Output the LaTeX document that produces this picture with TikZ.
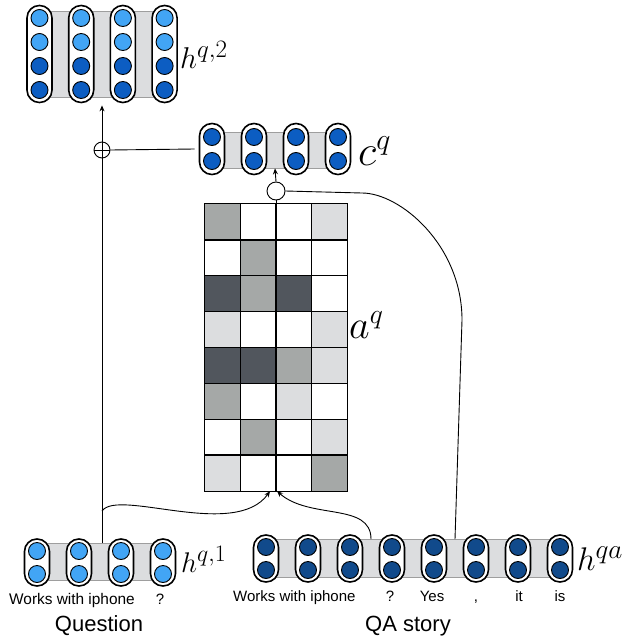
\documentclass[tikz,border=0pt]{standalone}
\usepackage{fontspec}
\setmainfont{Liberation Sans}
\usetikzlibrary{calc,arrows.meta}
\definecolor{lblue}{HTML}{42A5F5}
\definecolor{dblue}{HTML}{0C5DC2}
\definecolor{navy}{HTML}{114A8B}
\definecolor{bandgray}{HTML}{DCDDDF}
\definecolor{bandedge}{HTML}{9E9E9E}
\definecolor{cdark}{HTML}{51565D}
\definecolor{cmid}{HTML}{A5A8A7}
\definecolor{clight}{HTML}{DCDDDF}
\newcommand{\mlab}[2]{\scalebox{#1}{\fontsize{20.74}{24}\selectfont$#2$}}
\newcommand{\hsup}[1]{^{\mbox{\fontsize{17.28}{20}\selectfont$#1$}}}
\begin{document}
\begin{tikzpicture}[x=1pt,y=-1pt,
  capsule/.style={draw=black, line width=1.6pt, fill=white, rounded corners=12.4pt, minimum width=25pt, inner sep=0pt},
  unit/.style={circle, draw=black, line width=0.9pt, minimum size=17pt, inner sep=0pt},
  band/.style={draw=bandedge, fill=bandgray, line width=0.8pt, inner sep=0pt},
  arr/.style={-{Stealth[length=6pt,width=5pt]}, line width=0.9pt},
  conn/.style={line width=0.9pt},
  word/.style={font=\fontsize{15}{15}\selectfont, anchor=base, inner sep=0pt},
  title/.style={font=\fontsize{22}{22}\selectfont, anchor=base, inner sep=0pt},
  mlabel/.style={anchor=base west, inner sep=0pt}]
\useasboundingbox (0,0) rectangle (644,642);

% ---- h^{q,2}
\node[band, minimum width=125pt, minimum height=86pt] (hq2band) at (102,54) {};
\foreach \i/\x in {1/39.5,2/81.2,3/122.9,4/164.6} {
  \node[capsule, minimum height=97pt] (hq2-\i) at (\x,54) {};
  \node[unit, fill=lblue] (hq2-\i-1) at (\x,18) {};
  \node[unit, fill=lblue] (hq2-\i-2) at (\x,42) {};
  \node[unit, fill=dblue] (hq2-\i-3) at (\x,66) {};
  \node[unit, fill=dblue] (hq2-\i-4) at (\x,90) {};
}
\node[mlabel] (lhq2) at (180,68) {\mlab{1.45}{h\hsup{q{,}2}}};

% ---- c^q
\node[band, minimum width=126pt, minimum height=36pt] (cqband) at (275,150) {};
\foreach \i/\x in {1/212,2/254,3/296,4/338} {
  \node[capsule, minimum height=51pt] (cq-\i) at (\x,149) {};
  \node[unit, fill=dblue] (cq-\i-1) at (\x,137) {};
  \node[unit, fill=dblue] (cq-\i-2) at (\x,161) {};
}
\node[mlabel] (lcq) at (358,165) {\mlab{2.07}{c^q}};

% ---- h^{q,1}
\node[band, minimum width=126pt, minimum height=37pt] (hq1band) at (100,562) {};
\foreach \i/\x in {1/37,2/79,3/121,4/163} {
  \node[capsule, minimum height=47pt] (hq1-\i) at (\x,562.5) {};
  \node[unit, fill=lblue] (hq1-\i-1) at (\x,551) {};
  \node[unit, fill=lblue] (hq1-\i-2) at (\x,574) {};
}
\node[mlabel] (lhq1) at (181,572) {\mlab{1.37}{h\hsup{q{,}1}}};
\node[word, anchor=base west, font=\fontsize{15.4}{15.4}\selectfont] (qw1) at (9,604) {Works with iphone};
\node[word] (qw4) at (160,604) {?};
\node[title] (qtitle) at (99,631) {Question};

% ---- h^{qa}
\node[band, minimum width=294pt, minimum height=38pt] (hqaband) at (413,558.5) {};
\foreach \i/\x in {1/266,2/308,3/350,4/392,5/434,6/476,7/518,8/560} {
  \node[capsule, minimum height=47pt] (hqa-\i) at (\x,558.5) {};
  \node[unit, fill=navy] (hqa-\i-1) at (\x,547) {};
  \node[unit, fill=navy] (hqa-\i-2) at (\x,570) {};
}
\node[mlabel] (lhqa) at (577,570) {\mlab{1.58}{h\hsup{qa}}};
\node[word, anchor=base west] (aw1) at (233,601) {Works with iphone};
\node[word] (aw4) at (390,601) {?};
\node[word] (aw5) at (432,601) {Yes};
\node[word] (aw6) at (476,601) {,};
\node[word] (aw7) at (519,601) {it};
\node[word] (aw8) at (560,601) {is};
\node[title] (atitle) at (408,631) {QA story};

% ---- attention matrix a^q
\node[minimum width=142pt, minimum height=287pt, inner sep=0pt] (att) at (276,347.5) {};
\foreach \rowcols [count=\r] in {{cmid,white,white,clight},{white,cmid,white,white},{cdark,cmid,cdark,white},{clight,white,white,clight},{cdark,cdark,cmid,clight},{cmid,white,clight,white},{white,cmid,white,clight},{clight,white,white,cmid}} {
  \foreach \c [count=\k] in \rowcols {
    \fill[\c] ({205+35.5*(\k-1)},{204+35.875*(\r-1)}) rectangle ++(35.5,35.875);
  }
}
\foreach \k in {1,2,3} {
  \draw[line width=1.3pt] ({205+35.5*\k},204) -- ({205+35.5*\k},491);
}
\foreach \r in {1,...,7} {
  \draw[line width=1.3pt] (205,{204+35.875*\r}) -- (347,{204+35.875*\r});
}
\draw[line width=1.3pt] (att.north west) rectangle (att.south east);
\node[mlabel] (laq) at (349,338) {\mlab{1.93}{a^q}};

% ---- operators
\node[circle, draw, line width=0.9pt, fill=white, minimum size=18pt, inner sep=0pt] (sum) at (276,191) {};
\node[circle, draw, line width=0.9pt, minimum size=16pt, inner sep=0pt] (plus) at (102,150) {};
\draw[line width=0.9pt] (plus.north) -- (plus.south) (plus.west) -- (plus.east);

% ---- connectors
\coordinate (lstart) at (plus |- 0,511);
\draw[conn] (plus.south |- hq1band.north) -- (plus.south);
\draw[arr] (plus.north) -- ([yshift=-8pt]hq2band.south);
\draw[conn] (plus.east) -- ([xshift=-4pt]cq-1.west);
\draw[arr] (sum.north) -- (cqband.south);
\draw[conn] (sum.south) -- (att.north);
\path ($(hqa-5)!0.5!(hqa-6)$) coordinate (m56);
\coordinate (qaj) at (m56 |- hqaband.north);
\draw[conn] (sum.east) -- (362,193) .. controls (400,193) and (462,245) .. (462,320) -- (qaj);
\path ($(hqa-3)!0.5!(hqa-4)$) coordinate (m34);
\coordinate (rstart) at (m34 |- hqaband.north);
\draw[arr] (rstart) .. controls ([yshift=37pt]rstart) and (310,520) .. ([xshift=1pt]att.south);
\draw[arr] (lstart) .. controls (118,488) and (235,540) .. ([xshift=-6pt]att.south);
\end{tikzpicture}
\end{document}
